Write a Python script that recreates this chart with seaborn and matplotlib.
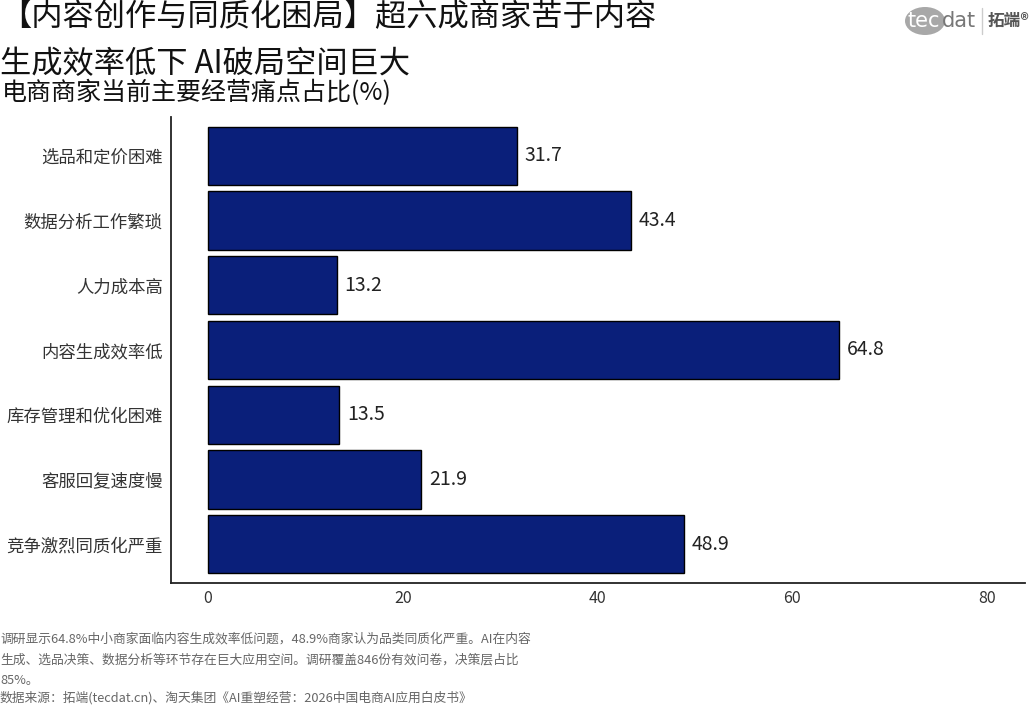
import numpy as np
import pandas as pd
import matplotlib
matplotlib.use("Agg")
import matplotlib.pyplot as plt
import seaborn as sns
from matplotlib.patches import Circle

# ==========================================
# DONNEES
# ==========================================
categories = ["选品和定价困难", "数据分析工作繁琐", "人力成本高", "内容生成效率低",
              "库存管理和优化困难", "客服回复速度慢", "竞争激烈同质化严重"]
values = [31.7, 43.4, 13.2, 64.8, 13.5, 21.9, 48.9]
x_ticks = [0, 20, 40, 60, 80]

title_line1 = "【内容创作与同质化困局】超六成商家苦于内容"
title_line2 = "生成效率低下 AI破局空间巨大"
subtitle = "电商商家当前主要经营痛点占比(%)"
caption = ("调研显示64.8%中小商家面临内容生成效率低问题，48.9%商家认为品类同质化严重。AI在内容\n"
           "生成、选品决策、数据分析等环节存在巨大应用空间。调研覆盖846份有效问卷，决策层占比\n"
           "85%。")
source = "数据来源：拓端(tecdat.cn)、淘天集团《AI重塑经营：2026中国电商AI应用白皮书》"

BAR_COLOR = "#0A1F7A"

df = pd.DataFrame({"cat": categories, "val": values})

sns.set_theme(style="white")
plt.rcParams['font.family'] = ['Noto Sans CJK SC', 'DejaVu Sans']

fig = plt.figure(figsize=(10.34, 7.24), dpi=100)
ax = fig.add_axes([0.1654, 0.1948, 0.8259, 0.6436])

sns.barplot(data=df, x="val", y="cat", order=categories, color=BAR_COLOR,
            edgecolor="black", linewidth=1.0, width=0.9, saturation=1, ax=ax)

for i, v in enumerate(values):
    ax.text(v + 0.8, i, f"{v:.1f}", va="center", ha="left", fontsize=14, color="#222222")

ax.set_xlim(-3.8, 83.9)
ax.set_ylim(len(categories) - 0.4, -0.6)
ax.set_xticks(x_ticks)
ax.set_xticklabels([str(t) for t in x_ticks], fontsize=11.5, color="#333333")
ax.tick_params(axis="y", labelsize=12.5, colors="#333333", length=0, pad=6)
ax.tick_params(axis="x", length=0, pad=5)
ax.set_xlabel("")
ax.set_ylabel("")
for s in ["top", "right"]:
    ax.spines[s].set_visible(False)
for s in ["left", "bottom"]:
    ax.spines[s].set_color("#222222")
    ax.spines[s].set_linewidth(1.3)

# Titres
fig.text(0.0, 0.978, title_line1, fontsize=22.5, ha="left", va="center", color="#111111")
fig.text(0.0, 0.912, title_line2, fontsize=22.5, ha="left", va="center", color="#111111")
fig.text(0.002, 0.872, subtitle, fontsize=18, ha="left", va="center", color="#111111")

# Note et source
fig.text(0.0, 0.126, caption, fontsize=9.2, ha="left", va="top", color="#666666", linespacing=1.75)
fig.text(0.0, 0.036, source, fontsize=9.2, ha="left", va="center", color="#666666")

# Logo tecdat
circ = Circle((925 / 1034, 1 - 21 / 724), 20 / 1034, transform=fig.transFigure,
              facecolor="#A8A8A8", edgecolor="none")
fig.patches.append(circ)
fig.text(907 / 1034, 1 - 21 / 724, "tec", fontsize=15, color="white", ha="left", va="center",
         family=["DejaVu Sans"])
fig.text(942 / 1034, 1 - 21 / 724, "dat", fontsize=15, color="#777777", ha="left", va="center",
         family=["DejaVu Sans"])
fig.add_artist(plt.Line2D([982 / 1034, 982 / 1034], [1 - 8 / 724, 1 - 34 / 724],
                          transform=fig.transFigure, color="#CCCCCC", lw=1))
fig.text(988 / 1034, 1 - 21 / 724, "拓端®", fontsize=12, color="#555555", ha="left", va="center",
         fontweight="bold")

fig.savefig("out.png", dpi=100)
